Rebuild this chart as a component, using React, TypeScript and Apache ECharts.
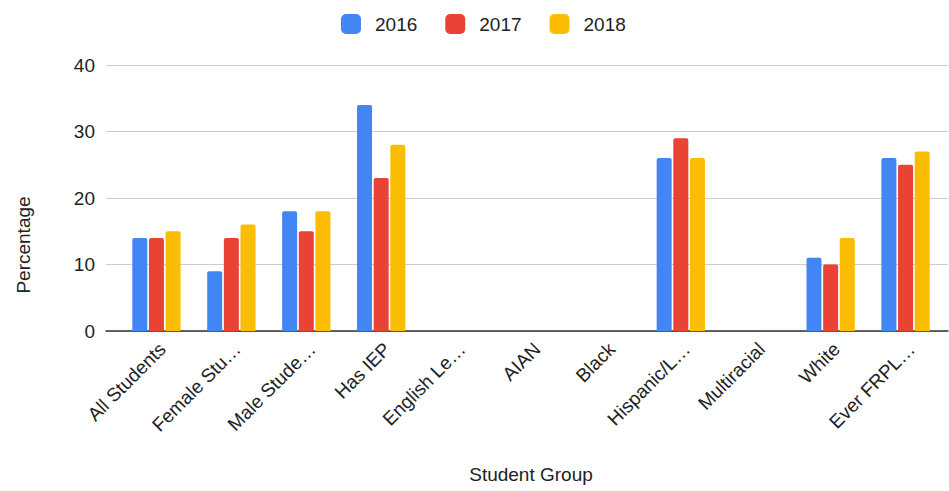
import React, { useEffect, useRef } from "react";
import * as echarts from "echarts";

const categories = [
  "All Students",
  "Female Stu…",
  "Male Stude…",
  "Has IEP",
  "English Le…",
  "AIAN",
  "Black",
  "Hispanic/L…",
  "Multiracial",
  "White",
  "Ever FRPL…",
];
const seriesNames = ["2016", "2017", "2018"];
const values2016 = [14, 9, 18, 34, null, null, null, 26, null, 11, 26];
const values2017 = [14, 14, 15, 23, null, null, null, 29, null, 10, 25];
const values2018 = [15, 16, 18, 28, null, null, null, 26, null, 14, 27];
const colors = ["#4285F4", "#EA4335", "#FBBC04"];
const yTicks = { min: 0, max: 40, interval: 10 };

const FONT = "Arial, 'Liberation Sans', sans-serif";

export default function App() {
  const ref = useRef<HTMLDivElement>(null);
  useEffect(() => {
    if (!ref.current) return;
    const chart = echarts.init(ref.current, null, { renderer: "svg" });
    const allValues = [values2016, values2017, values2018];
    chart.setOption({
      animation: false,
      backgroundColor: "#ffffff",
      textStyle: { fontFamily: FONT },
      legend: {
        data: seriesNames,
        top: 9,
        left: 336,
        itemWidth: 20,
        itemHeight: 20,
        itemGap: 28,
        icon: "roundRect",
        textStyle: { fontSize: 19, color: "#222", fontFamily: FONT, padding: [0, 0, 0, 9] },
      },
      grid: [
        { left: 106, right: 1, top: 65, bottom: 160 },
        { left: 119, right: 6, top: 65, bottom: 160 },
        { left: 125, right: 0, top: 65, bottom: 160 },
      ],
      xAxis: [
        {
          gridIndex: 0,
          type: "category",
          data: [""],
          axisLine: { show: true, lineStyle: { color: "#333", width: 1.5 } },
          axisTick: { show: false },
          axisLabel: { show: false },
        },
        {
          gridIndex: 1,
          type: "category",
          data: categories,
          axisLine: { show: false },
          axisTick: { show: false },
          axisLabel: { show: false },
          name: "Student Group",
          nameLocation: "middle",
          nameGap: 134,
          nameTextStyle: { fontSize: 19, color: "#222", fontFamily: FONT },
        },
        {
          gridIndex: 2,
          type: "category",
          data: categories,
          axisLine: { show: false },
          axisTick: { show: false },
          axisLabel: {
            rotate: 45,
            interval: 0,
            margin: 15,
            fontSize: 19,
            color: "#222",
            fontFamily: FONT,
          },
        },
      ],
      yAxis: [
        {
          gridIndex: 0,
          type: "value",
          ...yTicks,
          axisLine: { show: false },
          axisTick: { show: false },
          splitLine: { show: true, lineStyle: { color: "#ccc", width: 1 } },
          axisLabel: { fontSize: 19, color: "#222", margin: 11, fontFamily: FONT },
          name: "Percentage",
          nameLocation: "middle",
          nameGap: 73,
          nameTextStyle: {
            fontSize: 19,
            color: "#222",
            fontFamily: FONT,
            padding: [0, 94, 0, 0],
          },
        },
        { gridIndex: 1, type: "value", ...yTicks, show: false },
        { gridIndex: 2, type: "value", ...yTicks, show: false },
      ],
      series: seriesNames.map((name, i) => ({
        name,
        type: "bar",
        xAxisIndex: 1,
        yAxisIndex: 1,
        data: allValues[i],
        barWidth: 15,
        barGap: "11%",
        itemStyle: { color: colors[i], borderRadius: [2, 2, 0, 0] },
      })),
    });
    return () => chart.dispose();
  }, []);
  return <div ref={ref} style={{ width: 949, height: 491, position: "absolute", left: 0, top: 0 }} />;
}
